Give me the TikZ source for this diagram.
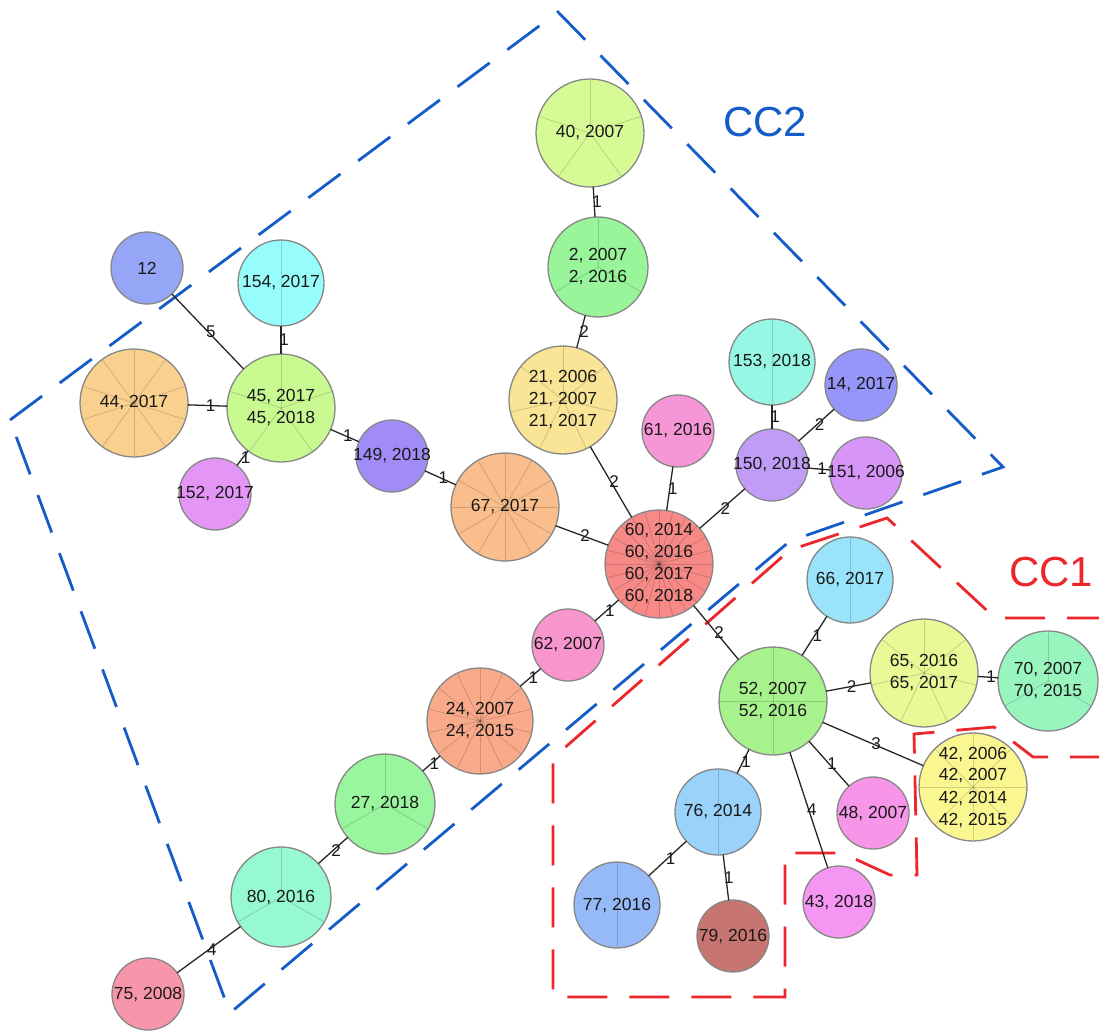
\documentclass[tikz,border=0pt]{standalone}
\usepackage{fontspec}
\setmainfont{Liberation Sans}
\newlength{\du}
\setlength{\du}{1pt}

\definecolor{stborder}{rgb}{0.530000, 0.530000, 0.530000}
\definecolor{cctwoblue}{rgb}{0.080000, 0.360000, 0.780000}
\definecolor{cconered}{rgb}{0.930000, 0.150000, 0.170000}
\definecolor{c40}{rgb}{0.840000, 0.980000, 0.590000}
\definecolor{c2}{rgb}{0.600000, 0.960000, 0.600000}
\definecolor{c21}{rgb}{0.980000, 0.895000, 0.590000}
\definecolor{c61}{rgb}{0.970000, 0.590000, 0.840000}
\definecolor{c153}{rgb}{0.590000, 0.970000, 0.895000}
\definecolor{c14}{rgb}{0.590000, 0.590000, 0.980000}
\definecolor{c150}{rgb}{0.755000, 0.610000, 0.970000}
\definecolor{c151}{rgb}{0.845000, 0.590000, 0.970000}
\definecolor{c60}{rgb}{0.970000, 0.540000, 0.530000}
\definecolor{c67}{rgb}{0.980000, 0.745000, 0.550000}
\definecolor{c62}{rgb}{0.975000, 0.585000, 0.805000}
\definecolor{c24}{rgb}{0.975000, 0.665000, 0.545000}
\definecolor{c27}{rgb}{0.600000, 0.960000, 0.620000}
\definecolor{c80}{rgb}{0.590000, 0.975000, 0.820000}
\definecolor{c75}{rgb}{0.970000, 0.590000, 0.665000}
\definecolor{c12}{rgb}{0.590000, 0.650000, 0.970000}
\definecolor{c154}{rgb}{0.590000, 0.990000, 0.990000}
\definecolor{c44}{rgb}{0.980000, 0.815000, 0.555000}
\definecolor{c45}{rgb}{0.785000, 0.980000, 0.570000}
\definecolor{c152}{rgb}{0.895000, 0.590000, 0.970000}
\definecolor{c149}{rgb}{0.630000, 0.550000, 0.970000}
\definecolor{c66}{rgb}{0.600000, 0.895000, 0.980000}
\definecolor{c52}{rgb}{0.655000, 0.950000, 0.550000}
\definecolor{c65}{rgb}{0.910000, 0.980000, 0.590000}
\definecolor{c70}{rgb}{0.595000, 0.960000, 0.745000}
\definecolor{c42}{rgb}{0.980000, 0.970000, 0.570000}
\definecolor{c48}{rgb}{0.970000, 0.585000, 0.910000}
\definecolor{c76}{rgb}{0.600000, 0.825000, 0.980000}
\definecolor{c77}{rgb}{0.590000, 0.725000, 0.970000}
\definecolor{c79}{rgb}{0.780000, 0.460000, 0.440000}
\definecolor{c43}{rgb}{0.960000, 0.590000, 0.950000}

\tikzset{
  stnode/.style={circle, draw=stborder, line width=1.3\du, inner sep=-12pt,
    outer sep=0pt, align=center, text=black!90,
    font=\fontsize{17.5}{22}\selectfont},
  sectorline/.style={draw=black, draw opacity=0.16, line width=0.8\du},
  pie/.style={path picture={\foreach \k in {1,...,#1}
      \draw[sectorline] (path picture bounding box.center) -- ++({90+\k*360/#1}:60pt);}},
  stlink/.style={draw=black!85, line width=1.3\du},
  stdist/.style={inner sep=0pt, xshift=3pt, text=black!90, font=\fontsize{17}{17}\selectfont},
  cc2line/.style={draw=cctwoblue, line width=2.8\du, dash pattern=on 40\du off 22\du},
  cc1line/.style={draw=cconered, line width=2.8\du, dash pattern=on 40\du off 22\du},
  cctext/.style={font=\fontsize{42}{42}\selectfont, inner sep=0pt}
}

\begin{document}
\begin{tikzpicture}[x=1\du, y=-1\du]
\useasboundingbox (0,0) rectangle (1099,1032);
% clonal complexes
\draw[cc2line] (10,420) -- (558,12) -- (1003,467) -- (790,541) -- (230,1013) -- cycle;
\draw[cc1line] (1110,757) -- (1033,757) -- (994,727) -- (914,734) -- (917,875) -- (890,875)
  -- (842,853) -- (785,853) -- (785,997) -- (553,997) -- (553,758) -- (790,550)
  -- (887,518) -- (995,618) -- (1110,618);
\node[cctext, text=cctwoblue] (cc2) at (765,122) {CC2};
\node[cctext, text=cconered] (cc1) at (1051,572) {CC1};
% CC2 group
\node[stnode, fill=c40, minimum size=108\du, pie=5] (st40) at (590,133) {40, 2007};
\node[stnode, fill=c2, minimum size=100\du, pie=3] (st2) at (598,267) {2, 2007\\2, 2016};
\node[stnode, fill=c21, minimum size=108\du, pie=7] (st21) at (563,400) {21, 2006\\21, 2007\\21, 2017};
\node[stnode, fill=c61, minimum size=72\du] (st61) at (678,431) {61, 2016};
\node[stnode, fill=c153, minimum size=86\du, pie=2] (st153) at (772,362) {153, 2018};
\node[stnode, fill=c14, minimum size=72\du] (st14) at (861,385) {14, 2017};
\node[stnode, fill=c150, minimum size=72\du] (st150) at (772,465) {150, 2018};
\node[stnode, fill=c151, minimum size=72\du] (st151) at (866,473) {151, 2006};
\node[stnode, fill=c60, minimum size=108\du, pie=24] (st60) at (659,564) {60, 2014\\60, 2016\\60, 2017\\60, 2018};
\node[stnode, fill=c67, minimum size=108\du, pie=12] (st67) at (505,507) {67, 2017};
\node[stnode, fill=c62, minimum size=72\du] (st62) at (568,645) {62, 2007};
\node[stnode, fill=c24, minimum size=106\du, pie=14] (st24) at (480,721) {24, 2007\\24, 2015};
\node[stnode, fill=c27, minimum size=100\du, pie=3] (st27) at (385,804) {27, 2018};
\node[stnode, fill=c80, minimum size=100\du, pie=3] (st80) at (281,897) {80, 2016};
\node[stnode, fill=c75, minimum size=72\du] (st75) at (148,994) {75, 2008};
\node[stnode, fill=c12, minimum size=72\du] (st12) at (147,268) {12};
\node[stnode, fill=c154, minimum size=86\du, pie=2] (st154) at (281,283) {154, 2017};
\node[stnode, fill=c44, minimum size=108\du, pie=10] (st44) at (134,403) {44, 2017};
\node[stnode, fill=c45, minimum size=108\du, pie=5] (st45) at (281,408) {45, 2017\\45, 2018};
\node[stnode, fill=c152, minimum size=72\du] (st152) at (215,494) {152, 2017};
\node[stnode, fill=c149, minimum size=72\du] (st149) at (392,456) {149, 2018};
% CC1 group
\node[stnode, fill=c66, minimum size=86\du, pie=2] (st66) at (850,580) {66, 2017};
\node[stnode, fill=c52, minimum size=108\du, pie=4] (st52) at (773,701) {52, 2007\\52, 2016};
\node[stnode, fill=c65, minimum size=108\du, pie=7] (st65) at (924,673) {65, 2016\\65, 2017};
\node[stnode, fill=c70, minimum size=100\du, pie=3] (st70) at (1048,681) {70, 2007\\70, 2015};
\node[stnode, fill=c42, minimum size=108\du, pie=8] (st42) at (973,787) {42, 2006\\42, 2007\\42, 2014\\42, 2015};
\node[stnode, fill=c48, minimum size=72\du] (st48) at (873,813) {48, 2007};
\node[stnode, fill=c76, minimum size=86\du, pie=2] (st76) at (718,812) {76, 2014};
\node[stnode, fill=c77, minimum size=86\du, pie=2] (st77) at (617,905) {77, 2016};
\node[stnode, fill=c79, minimum size=72\du] (st79) at (733,936) {79, 2016};
\node[stnode, fill=c43, minimum size=72\du] (st43) at (839,902) {43, 2018};
% links
\draw[stlink] (st40) -- node[stdist] {1} (st2);
\draw[stlink] (st2) -- node[stdist] {2} (st21);
\draw[stlink] (st21) -- node[stdist] {2} (st60);
\draw[stlink] (st61) -- node[stdist] {1} (st60);
\draw[stlink] (st150) -- node[stdist] {2} (st60);
\draw[stlink] (st153) -- node[stdist] {1} (st150);
\draw[stlink] (st14) -- node[stdist] {2} (st150);
\draw[stlink] (st151) -- node[stdist] {1} (st150);
\draw[stlink] (st67) -- node[stdist] {2} (st60);
\draw[stlink] (st149) -- node[stdist] {1} (st67);
\draw[stlink] (st45) -- node[stdist] {1} (st149);
\draw[stlink] (st12) -- node[stdist] {5} (st45);
\draw[stlink] (st154) -- node[stdist] {1} (st45);
\draw[stlink] (st44) -- node[stdist] {1} (st45);
\draw[stlink] (st152) -- node[stdist] {1} (st45);
\draw[stlink] (st62) -- node[stdist] {1} (st60);
\draw[stlink] (st24) -- node[stdist] {1} (st62);
\draw[stlink] (st27) -- node[stdist] {1} (st24);
\draw[stlink] (st80) -- node[stdist] {2} (st27);
\draw[stlink] (st75) -- node[stdist] {4} (st80);
\draw[stlink] (st60) -- node[stdist] {2} (st52);
\draw[stlink] (st52) -- node[stdist] {1} (st66);
\draw[stlink] (st52) -- node[stdist] {2} (st65);
\draw[stlink] (st65) -- node[stdist] {1} (st70);
\draw[stlink] (st52) -- node[stdist] {3} (st42);
\draw[stlink] (st52) -- node[stdist] {1} (st48);
\draw[stlink] (st52) -- node[stdist] {4} (st43);
\draw[stlink] (st76) -- node[stdist] {1} (st52);
\draw[stlink] (st77) -- node[stdist] {1} (st76);
\draw[stlink] (st76) -- node[stdist] {1} (st79);
\end{tikzpicture}
\end{document}
